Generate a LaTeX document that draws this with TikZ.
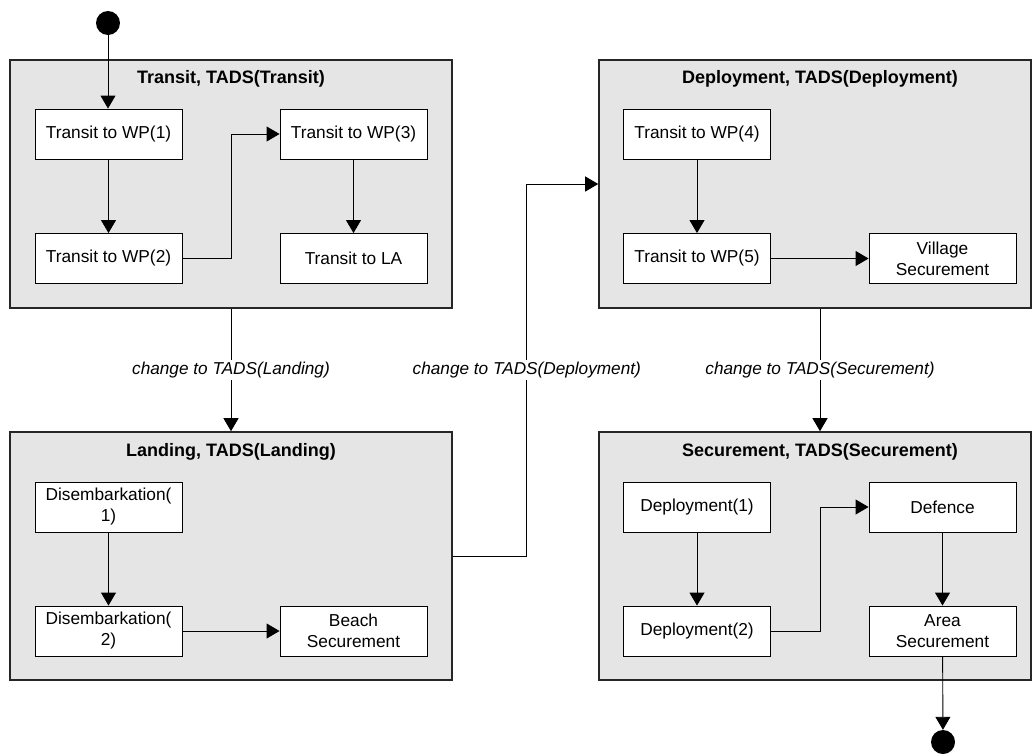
\documentclass[tikz,border=0pt]{standalone}
\usepackage{fontspec}
\setmainfont{Liberation Sans}
\usetikzlibrary{arrows.meta}

\tikzset{
  container/.style={draw=black!85, line width=1.6pt, fill=black!10, inner sep=0pt},
  ctitle/.style={font=\fontsize{18}{21}\selectfont\bfseries, inner sep=0pt},
  statebox/.style={draw=black, line width=0.9pt, fill=white, minimum width=147pt,
    minimum height=50pt, inner sep=0pt, align=center,
    font=\fontsize{17.3}{21}\selectfont},
  arr/.style={draw=black, line width=0.9pt,
    -{Triangle[length=13pt,width=15pt]}},
  lbl/.style={fill=white, inner sep=2pt, font=\fontsize{17.2}{20}\selectfont\itshape},
  dot/.style={circle, fill=black, minimum size=24pt, inner sep=0pt}
}

\begin{document}
\begin{tikzpicture}[x=1pt, y=-1pt]
\useasboundingbox (0,0) rectangle (1033,753);

% composite states
\node[container, minimum width=442pt, minimum height=248pt] (transit) at (231,184) {};
\node[container, minimum width=442pt, minimum height=248pt] (landing) at (231,556) {};
\node[container, minimum width=432pt, minimum height=248pt] (deploy) at (815,184) {};
\node[container, minimum width=432pt, minimum height=248pt] (secure) at (815,556) {};

\node[ctitle] (tTransit) at (231,79) {Transit, TADS(Transit)};
\node[ctitle] (tLanding) at (231,452) {Landing, TADS(Landing)};
\node[ctitle] (tDeploy) at (820,79) {Deployment, TADS(Deployment)};
\node[ctitle] (tSecure) at (820,452) {Securement, TADS(Securement)};

% column used by the right-hand connectors
\coordinate (dx) at (820,0);

% initial and final states
\node[dot] (start) at (108,23) {};
\node[dot] (final) at (943,742) {};

% Transit
\node[statebox] (wp1) at (108.5,134) {Transit to WP(1)};
\node[statebox] (wp2) at (108.5,258.5) {Transit to WP(2)};
\node[statebox] (wp3) at (353.5,134) {Transit to WP(3)};
\node[statebox] (la)  at (353.5,258.5) {Transit to LA};

% Landing
\node[statebox] (dis1) at (108.5,507) {Disembarkation(\\1)};
\node[statebox] (dis2) at (108.5,631) {Disembarkation(\\2)};
\node[statebox] (beach) at (353.5,631) {Beach\\Securement};

% Deployment
\node[statebox] (wp4) at (697,134) {Transit to WP(4)};
\node[statebox] (wp5) at (697,258.5) {Transit to WP(5)};
\node[statebox] (village) at (942.5,258.5) {Village\\Securement};

% Securement
\node[statebox] (dep1) at (697,507) {Deployment(1)};
\node[statebox] (dep2) at (697,631) {Deployment(2)};
\node[statebox] (defence) at (942.5,507) {Defence};
\node[statebox] (area) at (942.5,631) {Area\\Securement};

% transitions inside the states
\draw[arr] (start) -- (wp1.north -| start);
\draw[arr] (wp1) -- (wp2);
\draw[arr] (wp2.east) -- (wp2.east -| transit.center) |- (wp3.west);
\draw[arr] (wp3) -- (la);

\draw[arr] (dis1) -- (dis2);
\draw[arr] (dis2) -- (beach);

\draw[arr] (wp4) -- (wp5);
\draw[arr] (wp5) -- (village);

\draw[arr] (dep1) -- (dep2);
\draw[arr] (dep2.east) -- (dep2.east -| dx) |- (defence.west);
\draw[arr] (defence) -- (area);
\draw[arr] (area) -- (final);

% transitions between the states
\draw[arr] (transit.south) -- node[lbl] {change to TADS(Landing)} (landing.north);
\draw[arr] (landing.east) -- ++(74,0) |- node[lbl, pos=0.25] {change to TADS(Deployment)} (deploy.west);
\draw[arr] (deploy.south -| dx) -- node[lbl] {change to TADS(Securement)} (secure.north -| dx);

\end{tikzpicture}
\end{document}
